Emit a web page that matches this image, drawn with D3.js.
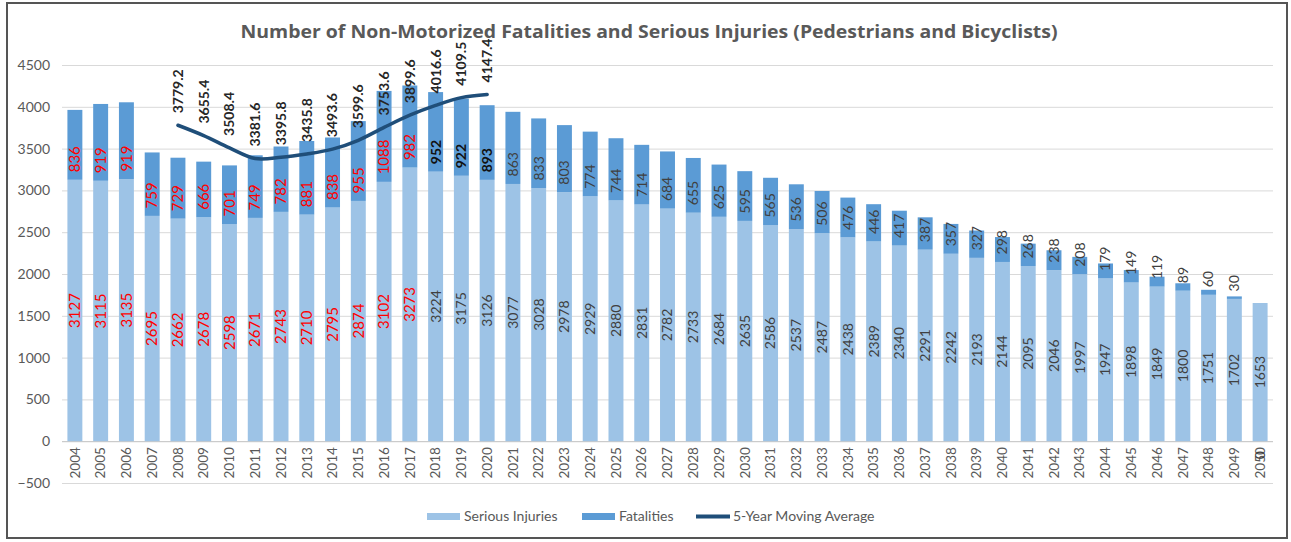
<!DOCTYPE html>
<html><head><meta charset="utf-8">
<script src="https://cdn.jsdelivr.net/npm/d3@7"></script>
<style>
html,body{margin:0;padding:0;background:#fff;}
svg{display:block;font-family:Lato,"Open Sans",sans-serif;}
</style></head>
<body>
<svg id="chart" width="1291" height="542"></svg>
<script>
const years = [2004,2005,2006,2007,2008,2009,2010,2011,2012,2013,2014,2015,2016,2017,2018,2019,2020,2021,2022,2023,2024,2025,2026,2027,2028,2029,2030,2031,2032,2033,2034,2035,2036,2037,2038,2039,2040,2041,2042,2043,2044,2045,2046,2047,2048,2049,2050];
const seriousInjuries = [3127,3115,3135,2695,2662,2678,2598,2671,2743,2710,2795,2874,3102,3273,3224,3175,3126,3077,3028,2978,2929,2880,2831,2782,2733,2684,2635,2586,2537,2487,2438,2389,2340,2291,2242,2193,2144,2095,2046,1997,1947,1898,1849,1800,1751,1702,1653];
const fatalities = [836,919,919,759,729,666,701,749,782,881,838,955,1088,982,952,922,893,863,833,803,774,744,714,684,655,625,595,565,536,506,476,446,417,387,357,327,298,268,238,208,179,149,119,89,60,30,0];
const maYears = [2008,2009,2010,2011,2012,2013,2014,2015,2016,2017,2018,2019,2020];
const movingAverage = [3779.2,3655.4,3508.4,3381.6,3395.8,3435.8,3493.6,3599.6,3753.6,3899.6,4016.6,4109.5,4147.4];
const yTicks = [-500,0,500,1000,1500,2000,2500,3000,3500,4000,4500];
const title = "Number of Non-Motorized Fatalities and Serious Injuries (Pedestrians and Bicyclists)";
const legendLabels = ["Serious Injuries","Fatalities","5-Year Moving Average"];

const C_SI = "#9DC3E6", C_F = "#5B9BD5", C_LINE = "#1F4E79", C_TXT = "#595959", C_GRID = "#D9D9D9";

const svg = d3.select("#chart");
svg.append("rect").attr("x",7).attr("y",3).attr("width",1280).attr("height",535)
  .attr("fill","#fff").attr("stroke","#555").attr("stroke-width",2);

const x = d3.scaleBand().domain(years).range([62,1273]).paddingInner(0.42).paddingOuter(0.21);
const y = d3.scaleLinear().domain([-500,4500]).range([483,65]);

// title
svg.append("text").attr("x",649).attr("y",38).attr("text-anchor","middle")
  .attr("font-family","'Open Sans',Lato,sans-serif")
  .attr("font-size",18.5).attr("font-weight","bold").attr("fill",C_TXT)
  .attr("textLength",817).attr("lengthAdjust","spacingAndGlyphs").text(title);

// gridlines
svg.append("g").selectAll("line").data(yTicks).join("line")
  .attr("x1",62).attr("x2",1273).attr("y1",d=>y(d)+0.5).attr("y2",d=>y(d)+0.5)
  .attr("stroke",d=>d===0?"#BFBFBF":C_GRID).attr("stroke-width",1);

// y axis
const yAxis = d3.axisLeft(y).tickValues(yTicks).tickFormat(d3.format("d")).tickSize(0).tickPadding(0);
const ya = svg.append("g").attr("transform","translate(50,0)").call(yAxis);
ya.select(".domain").remove();
ya.selectAll("text").attr("font-size",14).attr("fill",C_TXT).attr("font-family","Lato,sans-serif");

// x axis labels
const xAxis = d3.axisBottom(x).tickSize(0).tickPadding(0);
const xa = svg.append("g").attr("transform",`translate(0,${y(0)})`).call(xAxis);
xa.select(".domain").remove();
xa.selectAll("text").attr("font-size",13.5).attr("fill",C_TXT).attr("font-family","Lato,sans-serif")
  .attr("text-anchor","end").attr("dy","0.35em")
  .attr("transform","translate(0,6) rotate(-90)").attr("x",0).attr("y",0);

const data = years.map((yr,i)=>({yr, si:seriousInjuries[i], f:fatalities[i]}));

// bars
const bars = svg.append("g");
bars.selectAll("rect.si").data(data).join("rect").attr("class","si")
  .attr("x",d=>x(d.yr)).attr("width",x.bandwidth())
  .attr("y",d=>y(d.si)).attr("height",d=>y(0)-y(d.si)).attr("fill",C_SI);
bars.selectAll("rect.f").data(data).join("rect").attr("class","f")
  .attr("x",d=>x(d.yr)).attr("width",x.bandwidth())
  .attr("y",d=>y(d.si+d.f)).attr("height",d=>y(d.si)-y(d.si+d.f)).attr("fill",C_F);

// moving average line
const maData = maYears.map((yr,i)=>({yr, v:movingAverage[i]}));
const line = d3.line().x(d=>x(d.yr)+x.bandwidth()/2).y(d=>y(d.v)).curve(d3.curveCatmullRom.alpha(0.5));
svg.append("path").datum(maData).attr("d",line).attr("fill","none")
  .attr("stroke",C_LINE).attr("stroke-width",3.5).attr("stroke-linecap","round");

// labels
const cx = d=>x(d.yr)+x.bandwidth()/2;
const lbl = svg.append("g");
// serious injuries: centred in segment
lbl.selectAll("text.si").data(data).join("text").attr("class","si")
  .attr("transform",d=>`translate(${cx(d)},${(y(0)+y(d.si))/2}) rotate(-90)`)
  .attr("text-anchor","middle").attr("dy","0.35em")
  .attr("font-size",d=>d.yr<=2017?15:14)
  .attr("fill",d=>d.yr<=2017?"#FF0000":"#404040")
  .text(d=>d.si);
// fatalities: inside base of segment
lbl.selectAll("text.f").data(data).join("text").attr("class","f")
  .attr("transform",d=>d.f===0
      ? `translate(${cx(d)},${y(0)+14}) rotate(-90)`
      : `translate(${cx(d)},${y(d.si)-7.5}) rotate(-90)`)
  .attr("text-anchor",d=>d.f===0?"middle":"start").attr("dy","0.35em")
  .attr("font-size",d=>d.yr<=2017?15:14)
  .attr("font-weight",d=>(d.yr>=2018&&d.yr<=2020)?"bold":"normal")
  .attr("fill",d=>d.yr<=2017?"#FF0000":(d.yr<=2020?"#111":"#404040"))
  .text(d=>d.f);
// moving average labels
lbl.selectAll("text.ma").data(maData).join("text").attr("class","ma")
  .attr("transform",d=>`translate(${x(d.yr)+x.bandwidth()/2},${y(d.v)-12}) rotate(-90)`)
  .attr("text-anchor","start").attr("dy","0.35em")
  .attr("font-size",14).attr("font-weight","bold").attr("fill","#262626")
  .text(d=>d.v.toFixed(1));

// legend
const lg = svg.append("g").attr("font-size",14).attr("fill",C_TXT);
const legendItems = [
  {label:legendLabels[0], x:427, type:"rect", color:C_SI},
  {label:legendLabels[1], x:582, type:"rect", color:C_F},
  {label:legendLabels[2], x:696, type:"line", color:C_LINE}
];
legendItems.forEach(it=>{
  if(it.type==="rect") lg.append("rect").attr("x",it.x).attr("y",513).attr("width",33).attr("height",7).attr("fill",it.color);
  else lg.append("line").attr("x1",it.x).attr("x2",it.x+34).attr("y1",516.5).attr("y2",516.5).attr("stroke",it.color).attr("stroke-width",4);
  lg.append("text").attr("x",it.x+37).attr("y",521).text(it.label);
});
</script>
</body></html>
